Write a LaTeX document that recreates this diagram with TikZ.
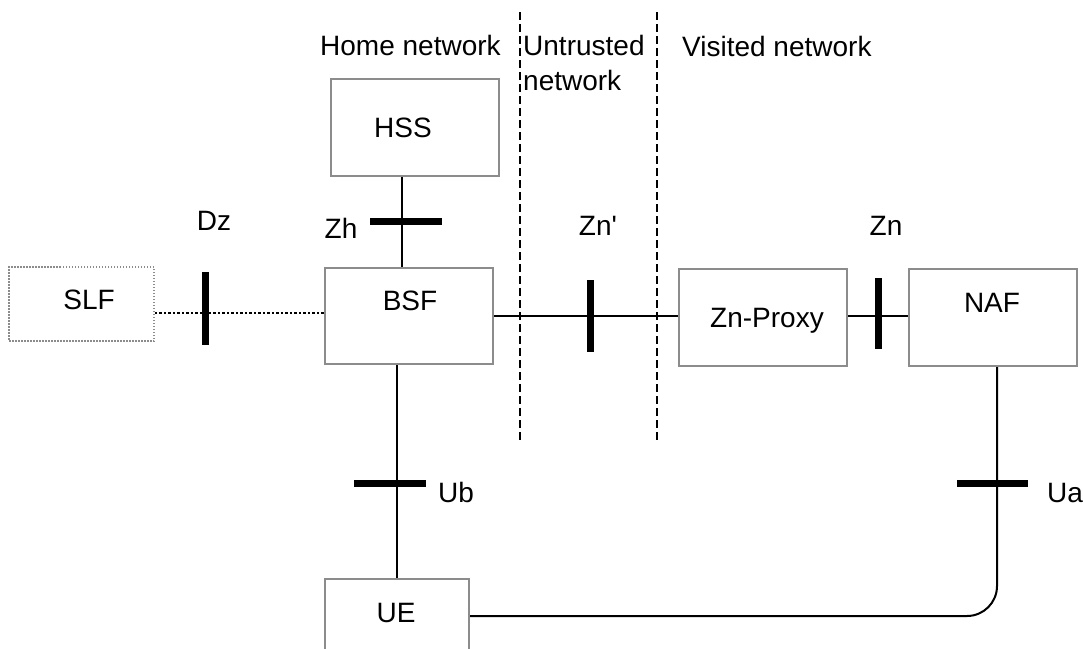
\documentclass[tikz,border=0pt]{standalone}
\usepackage{fontspec}
\setmainfont{Liberation Sans}
\usetikzlibrary{calc}
\definecolor{boxgray}{RGB}{140,140,140}
\begin{document}
\begin{tikzpicture}[x=1pt,y=-1pt,
  every node/.style={font=\fontsize{28}{34}\selectfont},
  netbox/.style={draw=boxgray,line width=2pt,rectangle,inner sep=0pt},
  slfbox/.style={draw=boxgray,line width=1.5pt,dash pattern=on 1.5pt off 1.5pt,rectangle,inner sep=0pt},
  conn/.style={line width=2pt,black},
  dotconn/.style={line width=2.5pt,black,dash pattern=on 2.5pt off 2pt},
  refpoint/.style={line width=7pt,black},
  border/.style={line width=1.8pt,black,dash pattern=on 8pt off 4pt},
  txt/.style={inner sep=0pt,anchor=base}]
\useasboundingbox (0,0) rectangle (1083,648);

% boxes
\node[slfbox,minimum width=145pt,minimum height=74pt] (slf) at (81.5,304) {};
\node[netbox,minimum width=168pt,minimum height=96pt] (bsf) at (409,316) {};
\node[netbox,minimum width=168pt,minimum height=97pt] (hss) at (415,127.5) {};
\node[netbox,minimum width=168pt,minimum height=97pt] (proxy) at (763,317.5) {};
\node[netbox,minimum width=168pt,minimum height=97pt] (naf) at (993,317.5) {};
\node[netbox,minimum width=144pt,minimum height=73pt] (ue) at (397,615.5) {};

% box labels
\node[txt] (slft) at (89,309) {SLF};
\node[txt] (bsft) at (410,310) {BSF};
\node[txt] (hsst) at (403,137) {HSS};
\node[txt] (proxyt) at (767,327) {Zn-Proxy};
\node[txt] (naft) at (992,312) {NAF};
\node[txt] (uet) at (396,622) {UE};

% domain borders
\coordinate (d1t) at (520,12);
\coordinate (d1b) at (520,440);
\coordinate (d2t) at (657,12);
\coordinate (d2b) at (657,442);
\draw[border] (d1t) -- (d1b);
\draw[border] (d2t) -- (d2b);

% domain labels
\node[txt,anchor=base west] (home) at (320,55) {Home network};
\node[txt,anchor=base west] (untr) at (523,55) {Untrusted};
\node[txt,anchor=base west] (untr2) at (523,90) {network};
\node[txt,anchor=base west] (visit) at (682,56) {Visited network};

% reference points
\coordinate (dz) at (205,313);
\coordinate (znp) at (590,316);
\coordinate (zn) at (878,316);
\coordinate (zh) at (402,221);
\coordinate (ub) at (397,483);
\coordinate (ua) at (997,483);

% connectors
\draw[dotconn] (dz -| slf.east) -- (dz -| bsf.west);
\draw[conn] (znp -| bsf.east) -- (znp -| proxy.west);
\draw[conn] (zn -| proxy.east) -- (zn -| naf.west);
\draw[conn] (zh |- hss.south) -- (zh |- bsf.north);
\draw[conn] (ub |- bsf.south) -- (ub |- ue.north);
\draw[conn,rounded corners=30pt] (ue.east |- 0,616) -| (ua |- naf.south);

% interface ticks
\draw[refpoint] ($(dz)+(0,-41)$) -- ($(dz)+(0,32)$);
\draw[refpoint] ($(znp)+(0,-36)$) -- ($(znp)+(0,36)$);
\draw[refpoint] ($(zn)+(0,-38)$) -- ($(zn)+(0,33)$);
\draw[refpoint] ($(zh)+(-32,0)$) -- ($(zh)+(40,0)$);
\draw[refpoint] ($(ub)+(-43,0)$) -- ($(ub)+(29,0)$);
\draw[refpoint] ($(ua)+(-40,0)$) -- ($(ua)+(31,0)$);

% interface labels
\node[txt] (dzt) at (214,230) {Dz};
\node[txt] (zht) at (341,238) {Zh};
\node[txt] (znpt) at (598,235) {Zn\textquotesingle};
\node[txt] (znt) at (886,235) {Zn};
\node[txt] (ubt) at (456,502) {Ub};
\node[txt,anchor=base west] (uat) at (1047,502) {Ua};
\end{tikzpicture}
\end{document}
